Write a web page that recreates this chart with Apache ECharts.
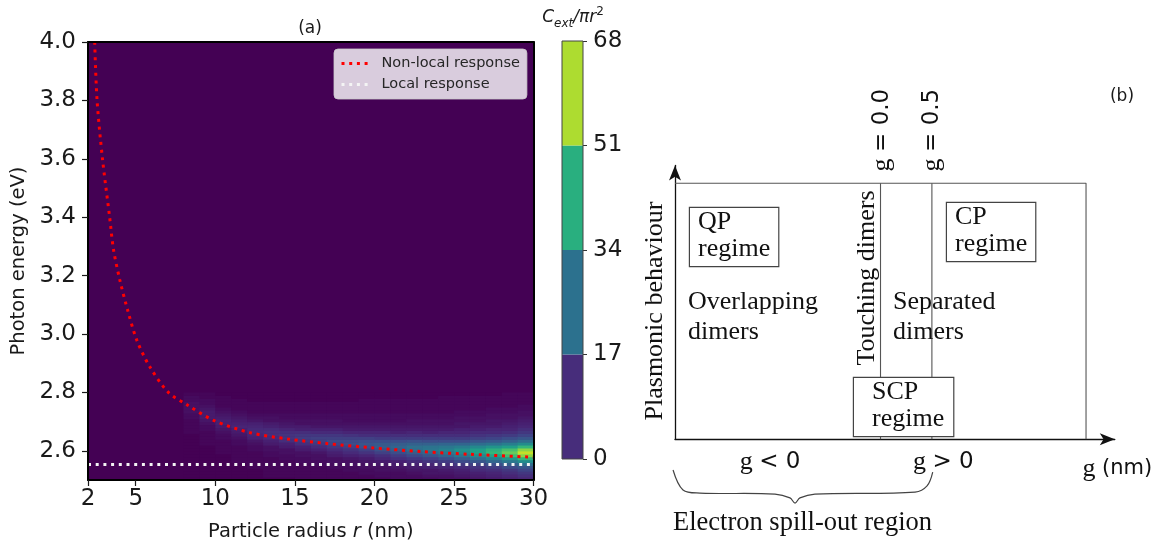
<!DOCTYPE html>
<html>
<head>
<meta charset="utf-8">
<script src="https://cdn.jsdelivr.net/npm/echarts@6/dist/echarts.min.js"></script>
<style>
  html, body { margin: 0; padding: 0; background: #fff; }
  #chart { width: 1152px; height: 543px; }
</style>
</head>
<body>
<div id="chart"></div>
<script>
// ---- panel (a) data ----
const radiusTicks = [2, 5, 10, 15, 20, 25, 30];
const energyTicks = [2.6, 2.8, 3.0, 3.2, 3.4, 3.6, 3.8, 4.0];

// non-local resonance (red dotted)
const nonlocalR = [2.42, 2.57, 2.91, 3.36, 3.6, 4.0, 4.5, 5.06, 5.86, 7.05, 8.24, 9.94, 12.2, 14.6, 17.0, 19.9, 23.0, 26.0, 30.0];
const nonlocalE = [4.00, 3.80, 3.60, 3.40, 3.29, 3.185, 3.08, 2.98, 2.89, 2.80, 2.757, 2.703, 2.662, 2.640, 2.625, 2.610, 2.597, 2.588, 2.578];

// local response (white dotted)
const localR = [2, 30];
const localE = [2.553, 2.553];

// extinction map C_ext/pi r^2 near the resonance, everything else ~0
const glowREdges = [8, 9, 10, 11, 12, 13, 14, 15, 16, 17, 18, 19, 20, 21, 22, 23, 24, 25, 26, 27, 28, 29, 30];
const glowEEdges = [2.50, 2.51, 2.52, 2.53, 2.54, 2.55, 2.56, 2.57, 2.58, 2.59, 2.60, 2.61, 2.62, 2.63, 2.64, 2.65,
  2.66, 2.67, 2.68, 2.69, 2.70, 2.71, 2.72, 2.73, 2.74, 2.75, 2.76, 2.77, 2.78, 2.79, 2.80];
// one row per radius column (8-9 nm ... 29-30 nm), energies from 2.50 eV upward
const glowValues = [
  [0, 0, 0, 0, 0, 0, 0, 0, 0, 0, 0, 0, 0, 0, 0, 0, 1, 1, 1, 1, 1, 2, 2, 3, 3, 3, 3, 2, 2, 1],
  [0, 0, 0, 0, 0, 0, 0, 0, 0, 0, 0, 0, 1, 1, 1, 1, 1, 2, 2, 3, 4, 5, 5, 5, 4, 3, 2, 2, 1, 1],
  [0, 0, 0, 0, 0, 0, 0, 0, 0, 1, 1, 1, 1, 1, 2, 2, 3, 4, 5, 6, 6, 5, 4, 3, 2, 1, 1, 1, 1, 0],
  [0, 0, 0, 0, 0, 0, 1, 1, 1, 1, 1, 1, 2, 2, 3, 4, 5, 6, 7, 6, 5, 4, 3, 2, 1, 1, 1, 1, 0, 0],
  [0, 0, 0, 0, 1, 1, 1, 1, 1, 1, 2, 2, 3, 4, 6, 7, 8, 8, 7, 6, 4, 3, 2, 1, 1, 1, 1, 0, 0, 0],
  [0, 1, 1, 1, 1, 1, 1, 1, 2, 2, 3, 3, 5, 6, 8, 9, 9, 8, 6, 5, 3, 3, 2, 1, 1, 1, 1, 0, 0, 0],
  [0, 1, 1, 1, 1, 1, 1, 2, 2, 3, 3, 5, 6, 9, 10, 10, 9, 7, 5, 4, 3, 2, 2, 1, 1, 1, 1, 0, 0, 0],
  [1, 1, 1, 1, 1, 1, 2, 2, 3, 3, 5, 6, 9, 11, 12, 11, 9, 6, 5, 3, 3, 2, 2, 1, 1, 1, 1, 0, 0, 0],
  [1, 1, 1, 1, 1, 2, 2, 3, 3, 4, 6, 8, 11, 13, 13, 11, 8, 6, 4, 3, 3, 2, 2, 1, 1, 1, 1, 0, 0, 0],
  [1, 1, 1, 1, 2, 2, 3, 3, 5, 6, 8, 11, 14, 15, 13, 11, 8, 6, 4, 3, 3, 2, 2, 1, 1, 1, 1, 0, 0, 0],
  [1, 1, 1, 2, 2, 3, 3, 4, 6, 8, 10, 13, 16, 15, 13, 10, 7, 5, 4, 3, 2, 2, 2, 1, 1, 1, 1, 0, 0, 0],
  [1, 1, 2, 2, 3, 3, 4, 5, 7, 10, 13, 17, 18, 16, 13, 9, 7, 5, 4, 3, 2, 2, 2, 1, 1, 1, 1, 1, 0, 0],
  [1, 2, 2, 3, 3, 4, 5, 7, 9, 13, 17, 20, 19, 16, 12, 9, 7, 5, 4, 3, 2, 2, 2, 1, 1, 1, 1, 1, 0, 0],
  [2, 2, 2, 3, 4, 5, 6, 9, 12, 16, 20, 22, 20, 16, 12, 9, 6, 5, 4, 3, 2, 2, 2, 1, 1, 1, 1, 1, 0, 0],
  [2, 2, 3, 4, 5, 6, 8, 11, 15, 20, 24, 25, 21, 17, 12, 9, 7, 5, 4, 3, 3, 2, 2, 1, 1, 1, 1, 1, 0, 0],
  [2, 3, 4, 4, 6, 7, 10, 13, 18, 23, 27, 26, 21, 16, 12, 9, 6, 5, 4, 3, 3, 2, 2, 1, 1, 1, 1, 1, 0, 0],
  [3, 3, 4, 5, 7, 9, 12, 16, 22, 27, 30, 27, 22, 16, 12, 9, 7, 5, 4, 3, 3, 2, 2, 1, 1, 1, 1, 1, 1, 0],
  [3, 4, 5, 6, 8, 11, 15, 20, 27, 32, 34, 29, 22, 16, 12, 9, 7, 6, 4, 4, 3, 3, 2, 2, 1, 1, 1, 1, 1, 0],
  [4, 5, 6, 8, 10, 13, 18, 24, 32, 38, 38, 32, 24, 18, 13, 10, 8, 6, 5, 4, 3, 3, 2, 2, 1, 1, 1, 1, 1, 0],
  [5, 6, 7, 9, 12, 16, 22, 30, 39, 45, 43, 35, 26, 19, 14, 11, 8, 7, 5, 4, 4, 3, 3, 2, 2, 1, 1, 1, 1, 0],
  [6, 7, 9, 11, 15, 20, 27, 36, 47, 52, 48, 38, 29, 21, 16, 12, 9, 7, 6, 5, 4, 3, 3, 2, 2, 1, 1, 1, 1, 1],
  [7, 9, 11, 14, 18, 24, 33, 45, 56, 62, 56, 45, 33, 24, 18, 14, 11, 9, 7, 6, 5, 4, 3, 3, 2, 2, 1, 1, 1, 1]
];

// colour bar levels
const colorbarBounds = [0, 17, 34, 51, 68];
const colorbarColors = ['#472d7b', '#2c718e', '#29af7f', '#addc30'];
const viridis = ['#440154', '#482878', '#3e4989', '#31688e', '#26828e', '#1f9e89', '#35b779', '#6ece58', '#b5de2b', '#fde725'];

// ---- panel (b) schematic, in g (nm) / arbitrary behaviour units ----
const gapLines = [0.0, 0.5];
const regimeOutline = [[-2, 1], [2, 1], [2, 0]];
const braceG = [-2.019, -1.922, -1.757, -1.027, -0.881, -0.832, -0.784, -0.638, 0.336, 0.453, 0.508];
const braceY = [-0.120, -0.198, -0.210, -0.214, -0.229, -0.249, -0.229, -0.214, -0.206, -0.182, -0.128];

const sans = 'DejaVu Sans';
const serif = 'Liberation Serif';
const ink = '#1a1a1a';

const glowCells = [];
glowValues.forEach(function (col, i) {
  col.forEach(function (v, j) {
    glowCells.push([glowREdges[i], glowREdges[i + 1], glowEEdges[j], glowEEdges[j + 1], v]);
  });
});

function renderCell(params, api) {
  const a = api.coord([api.value(0), api.value(3)]);
  const b = api.coord([api.value(1), api.value(2)]);
  return {
    type: 'rect',
    shape: { x: a[0], y: a[1], width: b[0] - a[0] + 0.6, height: b[1] - a[1] + 0.6 },
    style: { fill: api.visual('color') }
  };
}

const frameLine = { show: true, lineStyle: { color: '#000', width: 2 } };
const cbText = { fontFamily: sans, fontWeight: 'normal', color: ink, lineHeight: 24 };

const chart = echarts.init(document.getElementById('chart'));

const option = {
  animation: false,
  backgroundColor: '#fff',
  title: [
    { text: '(a)', left: 310, top: 20, textAlign: 'center', padding: 0,
      textStyle: { fontFamily: sans, fontSize: 17, fontWeight: 'normal', color: ink } },
    { text: '(b)', left: 1122, top: 88, textAlign: 'center', padding: 0,
      textStyle: { fontFamily: sans, fontSize: 17, fontWeight: 'normal', color: ink } },
    { text: '{i|C}{sub|ext}{i|/πr}{sup|2}', left: 573, top: 6, textAlign: 'center', padding: 0,
      textStyle: {
        fontWeight: 'normal',
        rich: {
          i: Object.assign({ fontStyle: 'italic', fontSize: 17 }, cbText),
          sub: Object.assign({ fontStyle: 'italic', fontSize: 12, verticalAlign: 'bottom' }, cbText),
          sup: Object.assign({ fontSize: 12, verticalAlign: 'top' }, cbText)
        }
      } }
  ],
  legend: {
    data: ['Non-local response', 'Local response'],
    orient: 'vertical',
    left: 334, top: 49,
    padding: [7, 7, 7, 6],
    itemWidth: 27, itemHeight: 14, itemGap: 6,
    backgroundColor: 'rgba(255,255,255,0.8)',
    borderColor: 'rgba(204,204,204,0.8)', borderWidth: 1, borderRadius: 4,
    itemStyle: { opacity: 0 },
    lineStyle: { width: 3, type: [3, 4.7], cap: 'butt' },
    textStyle: { fontFamily: sans, fontSize: 14.5, color: '#262626', padding: [0, 0, 0, 8] }
  },
  visualMap: {
    show: false, type: 'continuous', min: 0, max: 68, dimension: 4, seriesIndex: 0,
    inRange: { color: viridis }
  },
  grid: [
    { left: 88, top: 42, width: 445.6, height: 438, outerBoundsMode: 'none', containLabel: false,
      show: true, backgroundColor: '#440154', borderWidth: 0 },
    { left: 562, top: 41, width: 21, height: 418, outerBoundsMode: 'none', containLabel: false,
      show: true, backgroundColor: 'transparent', borderColor: '#444', borderWidth: 1, z: 10 },
    { left: 675, top: 165.4, width: 439.8, height: 273.9, outerBoundsMode: 'none', containLabel: false }
  ],
  xAxis: [
    { gridIndex: 0, type: 'value', min: 2, max: 30, z: 10,
      axisLine: frameLine,
      axisTick: { show: true, customValues: radiusTicks, length: 6, lineStyle: { color: ink, width: 1.2 } },
      axisLabel: { customValues: radiusTicks, fontFamily: sans, fontSize: 23, color: ink, margin: 8 },
      splitLine: { show: false },
      name: 'Particle radius {it|r} (nm)', nameLocation: 'middle', nameGap: 42,
      nameTextStyle: { fontFamily: sans, fontSize: 19.5, color: ink,
        rich: { it: { fontFamily: sans, fontSize: 19.5, fontStyle: 'italic', color: ink } } } },
    { gridIndex: 0, type: 'value', min: 2, max: 30, position: 'top', z: 10,
      axisLine: frameLine, axisTick: { show: false }, axisLabel: { show: false }, splitLine: { show: false } },
    { gridIndex: 1, type: 'category', data: ['c'], show: false },
    { gridIndex: 2, type: 'value', min: -2, max: 2.28,
      axisLine: { show: true, onZero: false, symbol: ['none', 'arrow'], symbolSize: [9, 15], lineStyle: { color: '#111', width: 1.3 } },
      axisTick: { show: false }, axisLabel: { show: false }, splitLine: { show: false } }
  ],
  yAxis: [
    { gridIndex: 0, type: 'value', min: 2.5, max: 4.0, z: 10,
      axisLine: frameLine,
      axisTick: { show: true, customValues: energyTicks, length: 6, lineStyle: { color: ink, width: 1.2 } },
      axisLabel: { customValues: energyTicks, fontFamily: sans, fontSize: 23, color: ink, margin: 12,
        formatter: function (v) { return v.toFixed(1); } },
      splitLine: { show: false },
      name: 'Photon energy (eV)', nameLocation: 'middle', nameGap: 59,
      nameTextStyle: { fontFamily: sans, fontSize: 19.5, color: ink } },
    { gridIndex: 0, type: 'value', min: 2.5, max: 4.0, position: 'right', z: 10,
      axisLine: frameLine, axisTick: { show: false }, axisLabel: { show: false }, splitLine: { show: false } },
    { gridIndex: 1, type: 'value', min: 0, max: 68, interval: 17, position: 'right',
      axisLine: { show: false },
      axisTick: { show: true, length: 4, lineStyle: { color: '#333' } },
      axisLabel: { fontFamily: sans, fontSize: 23, color: ink, margin: 10 },
      splitLine: { show: false } },
    { gridIndex: 2, type: 'value', min: 0, max: 1.07,
      axisLine: { show: true, onZero: false, symbol: ['none', 'arrow'], symbolSize: [9, 15], lineStyle: { color: '#111', width: 1.3 } },
      axisTick: { show: false }, axisLabel: { show: false }, splitLine: { show: false } }
  ],
  series: [
    { type: 'custom', name: 'extinction', xAxisIndex: 0, yAxisIndex: 0,
      renderItem: renderCell, encode: { x: [0, 1], y: [2, 3] }, data: glowCells, silent: true, z: 1 },
    { name: 'Non-local response', type: 'line', xAxisIndex: 0, yAxisIndex: 0,
      data: nonlocalR.map(function (r, i) { return [r, nonlocalE[i]]; }),
      symbol: 'none', smooth: 0.3, z: 5,
      itemStyle: { color: '#ff0000' },
      lineStyle: { color: '#ff0000', width: 3, type: [3, 4.7], cap: 'butt' } },
    { name: 'Local response', type: 'line', xAxisIndex: 0, yAxisIndex: 0,
      data: localR.map(function (r, i) { return [r, localE[i]]; }),
      symbol: 'none', z: 5,
      itemStyle: { color: '#ffffff' },
      lineStyle: { color: '#f4f4f4', width: 3, type: [3, 4.7], cap: 'butt' } }
  ]
};

// colour bar: stacked blocks between the level bounds
colorbarColors.forEach(function (c, i) {
  option.series.push({
    type: 'bar', xAxisIndex: 2, yAxisIndex: 2, stack: 'cb', barWidth: '100%', silent: true,
    data: [colorbarBounds[i + 1] - colorbarBounds[i]], itemStyle: { color: c }
  });
});

// panel (b) regime outline and the two gap boundaries
option.series.push({
  type: 'line', xAxisIndex: 3, yAxisIndex: 3, data: regimeOutline, symbol: 'none', silent: true,
  lineStyle: { color: '#555', width: 1.1 }
});
gapLines.forEach(function (g) {
  option.series.push({
    type: 'line', xAxisIndex: 3, yAxisIndex: 3, data: [[g, 0], [g, 1]], symbol: 'none', silent: true,
    lineStyle: { color: '#555', width: 1.1 }
  });
});

chart.setOption(option);

// annotations of panel (b), placed in its g / behaviour coordinates
function at(g, y) { return chart.convertToPixel({ gridIndex: 2 }, [g, y]); }
function note(g, y, style, rot) {
  const p = at(g, y);
  return {
    type: 'text', x: p[0], y: p[1], z: 20, rotation: rot || 0,
    style: Object.assign({ fill: '#111', fontFamily: serif, fontSize: 26 }, style)
  };
}
const boxed = { lineHeight: 27, align: 'left', verticalAlign: 'top', borderColor: '#444', borderWidth: 1.2, backgroundColor: '#fff' };
const gRich = {
  s: { fontFamily: serif, fontSize: 26, fill: '#111' },
  d: { fontFamily: sans, fontSize: 23, fill: '#111' },
  u: { fontFamily: sans, fontSize: 21, fill: '#111' }
};

chart.setOption({
  graphic: [
    note(-1.854, 0.9035, Object.assign({ text: 'QP\nregime', padding: [1, 8, 3, 8] }, boxed)),
    note(0.647, 0.923, Object.assign({ text: 'CP\nregime', padding: [1, 8, 3, 8] }, boxed)),
    note(-0.258, 0.2395, Object.assign({ text: 'SCP\nregime', padding: [1, 9, 3, 18] }, boxed)),
    note(-1.873, 0.479, { text: 'Overlapping\ndimers', lineHeight: 30, align: 'left', verticalAlign: 'middle' }),
    note(0.122, 0.479, { text: 'Separated\ndimers', lineHeight: 30, align: 'left', verticalAlign: 'middle' }),
    note(-0.131, 0.63, { text: 'Touching dimers', align: 'center', verticalAlign: 'middle' }, Math.PI / 2),
    note(-2.195, 0.501, { text: 'Plasmonic behaviour', align: 'center', verticalAlign: 'middle' }, Math.PI / 2),
    note(0.015, 1.208, { text: '{s|g} {d|= 0.0}', rich: gRich, align: 'center', verticalAlign: 'middle' }, Math.PI / 2),
    note(0.501, 1.208, { text: '{s|g} {d|= 0.5}', rich: gRich, align: 'center', verticalAlign: 'middle' }, Math.PI / 2),
    note(-1.075, -0.089, { text: '{s|g} {d|< 0}', rich: gRich, align: 'center', verticalAlign: 'middle' }),
    note(0.316, -0.089, { text: '{s|g} {d|> 0}', rich: gRich, align: 'left', verticalAlign: 'middle' }),
    note(1.966, -0.116, { text: '{s|g }{u|(nm)}', rich: gRich, align: 'left', verticalAlign: 'middle' }),
    note(-2.02, -0.327, { text: 'Electron spill-out region', align: 'left', verticalAlign: 'middle', fontSize: 26.5 }),
    {
      type: 'polyline', z: 20,
      shape: { points: braceG.map(function (g, i) { return at(g, braceY[i]); }), smooth: 0.35 },
      style: { stroke: '#444', lineWidth: 1.2, fill: null }
    }
  ]
});
</script>
</body>
</html>
